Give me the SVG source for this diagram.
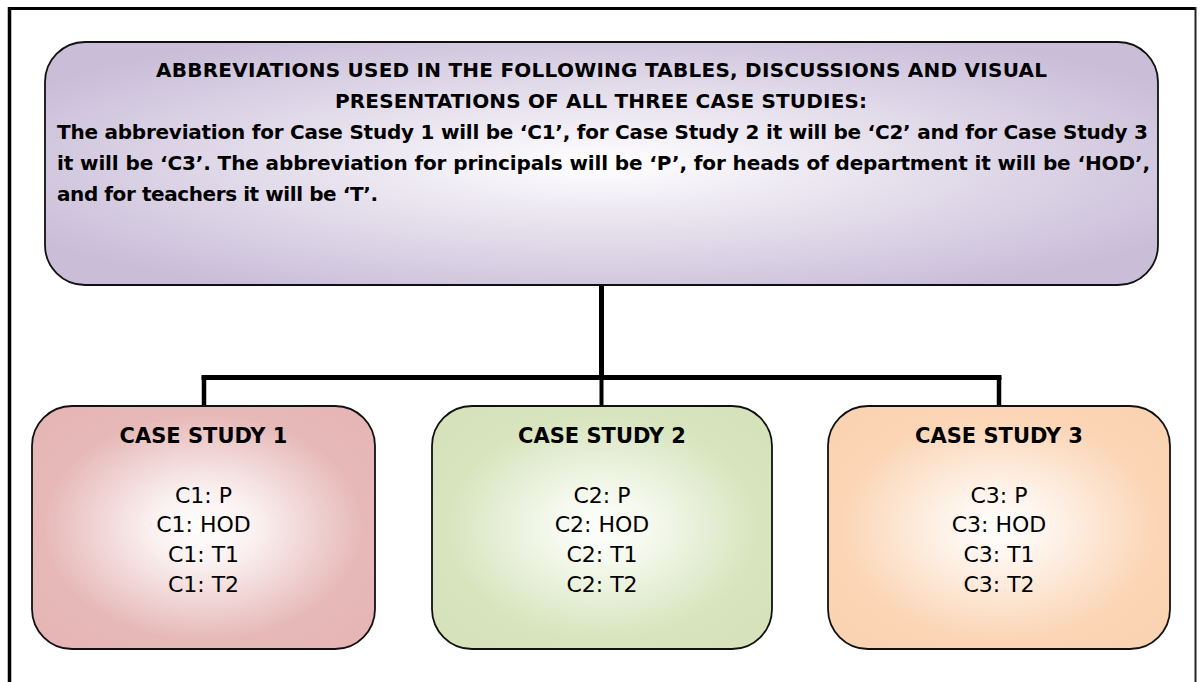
<svg xmlns="http://www.w3.org/2000/svg" width="1201" height="682" viewBox="0 0 1201 682">
  <style>
    .box { stroke: #111; stroke-width: 1.8; }
    .head { font-family: "DejaVu Sans", "Liberation Sans", sans-serif; font-weight: bold; font-size: 20px; fill: #000; }
    .title { font-family: "DejaVu Sans", "Liberation Sans", sans-serif; font-weight: bold; font-size: 21px; fill: #000; text-anchor: middle; }
    .row { font-family: "DejaVu Sans", "Liberation Sans", sans-serif; font-size: 22px; fill: #000; text-anchor: middle; }
    .conn { stroke: #000; fill: none; stroke-linecap: butt; }
  </style>
  <defs>
    <radialGradient id="gTop" cx="0.5" cy="0.5" r="0.6">
      <stop offset="0" stop-color="#ffffff"/>
      <stop offset="0.3" stop-color="#eeeaf3"/>
      <stop offset="1" stop-color="#c9bdd8"/>
    </radialGradient>
    <radialGradient id="g1" cx="0.5" cy="0.5" r="0.62">
      <stop offset="0" stop-color="#ffffff"/>
      <stop offset="0.25" stop-color="#faf0f0"/>
      <stop offset="0.75" stop-color="#e6b9b8"/>
      <stop offset="1" stop-color="#e5b6b5"/>
    </radialGradient>
    <radialGradient id="g2" cx="0.5" cy="0.5" r="0.62">
      <stop offset="0" stop-color="#ffffff"/>
      <stop offset="0.25" stop-color="#f4f8ec"/>
      <stop offset="0.75" stop-color="#d7e4bd"/>
      <stop offset="1" stop-color="#d5e2ba"/>
    </radialGradient>
    <radialGradient id="g3" cx="0.5" cy="0.5" r="0.62">
      <stop offset="0" stop-color="#ffffff"/>
      <stop offset="0.25" stop-color="#fef3ea"/>
      <stop offset="0.75" stop-color="#fbd5b5"/>
      <stop offset="1" stop-color="#fad3b2"/>
    </radialGradient>
  </defs>

  <rect width="1201" height="682" fill="#ffffff"/>

  <g id="frame">
    <line x1="9.5" y1="7" x2="9.5" y2="682" stroke="#000" stroke-width="3.5"/>
    <line x1="8" y1="8.5" x2="1196" y2="8.5" stroke="#000" stroke-width="3"/>
    <line x1="1195.5" y1="7" x2="1195.5" y2="682" stroke="#222" stroke-width="2"/>
  </g>

  <g id="connectors">
    <line class="conn" x1="601.5" y1="285" x2="601.5" y2="380" stroke-width="5"/>
    <line class="conn" x1="201.5" y1="377.5" x2="1001.5" y2="377.5" stroke-width="5"/>
    <line class="conn" x1="204" y1="377" x2="204" y2="406" stroke-width="4.5"/>
    <line class="conn" x1="601.5" y1="377" x2="601.5" y2="406" stroke-width="4"/>
    <line class="conn" x1="999" y1="377" x2="999" y2="406" stroke-width="4.5"/>
  </g>

  <g id="abbreviations">
    <rect class="box" x="45" y="42" width="1113" height="243" rx="40" ry="40" fill="url(#gTop)"/>
    <text class="head" x="156" y="77" textLength="891">ABBREVIATIONS USED IN THE FOLLOWING TABLES, DISCUSSIONS AND VISUAL</text>
    <text class="head" x="335" y="108" textLength="532">PRESENTATIONS OF ALL THREE CASE STUDIES:</text>
    <text class="head" x="57" y="139" textLength="1091">The abbreviation for Case Study 1 will be ‘C1’, for Case Study 2 it will be ‘C2’ and for Case Study 3</text>
    <text class="head" x="57" y="170" textLength="1093">it will be ‘C3’. The abbreviation for principals will be ‘P’, for heads of department it will be ‘HOD’,</text>
    <text class="head" x="57" y="201" textLength="321">and for teachers it will be ‘T’.</text>
  </g>

  <g id="case-study-1">
    <rect class="box" x="32" y="406" width="343" height="243" rx="40" ry="40" fill="url(#g1)"/>
    <text class="title" x="203.5" y="443">CASE STUDY 1</text>
    <text class="row" x="203.5" y="503">C1: P</text>
    <text class="row" x="203.5" y="532">C1: HOD</text>
    <text class="row" x="203.5" y="562">C1: T1</text>
    <text class="row" x="203.5" y="592">C1: T2</text>
  </g>

  <g id="case-study-2">
    <rect class="box" x="432" y="406" width="340" height="243" rx="40" ry="40" fill="url(#g2)"/>
    <text class="title" x="602" y="443">CASE STUDY 2</text>
    <text class="row" x="602" y="503">C2: P</text>
    <text class="row" x="602" y="532">C2: HOD</text>
    <text class="row" x="602" y="562">C2: T1</text>
    <text class="row" x="602" y="592">C2: T2</text>
  </g>

  <g id="case-study-3">
    <rect class="box" x="828" y="406" width="342" height="243" rx="40" ry="40" fill="url(#g3)"/>
    <text class="title" x="999" y="443">CASE STUDY 3</text>
    <text class="row" x="999" y="503">C3: P</text>
    <text class="row" x="999" y="532">C3: HOD</text>
    <text class="row" x="999" y="562">C3: T1</text>
    <text class="row" x="999" y="592">C3: T2</text>
  </g>
</svg>
